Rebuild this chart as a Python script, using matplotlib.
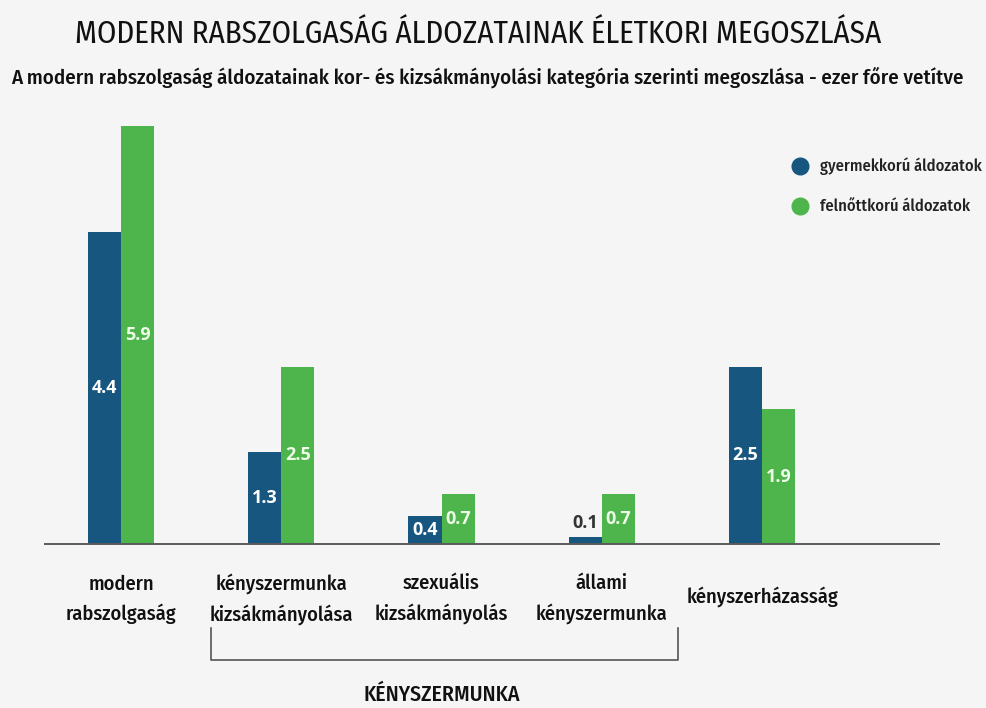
import matplotlib
matplotlib.use("Agg")
import matplotlib.pyplot as plt
from matplotlib import transforms
from matplotlib.lines import Line2D
from matplotlib import font_manager
import numpy as np

categories = ["modern\nrabszolgaság", "kényszermunka\nkizsákmányolása",
              "szexuális\nkizsákmányolás", "állami\nkényszermunka",
              "kényszerházasság"]
children = [4.4, 1.3, 0.4, 0.1, 2.5]
adults = [5.9, 2.5, 0.7, 0.7, 1.9]
series_names = ["gyermekkorú áldozatok", "felnőttkorú áldozatok"]

title = "MODERN RABSZOLGASÁG ÁLDOZATAINAK ÉLETKORI MEGOSZLÁSA"
subtitle = ("A modern rabszolgaság áldozatainak kor- és kizsákmányolási "
            "kategória szerinti megoszlása - ezer főre vetítve")
group_label = "KÉNYSZERMUNKA"

BLUE = "#16567f"
GREEN = "#4db54b"
BG = "#f5f5f5"

names = {f.name for f in font_manager.fontManager.ttflist}
main = next((n for n in ["Fira Sans Condensed", "PT Sans Narrow",
                         "IBM Plex Sans Condensed", "Carlito"]
             if n in names), "DejaVu Sans")
plt.rcParams['font.family'] = [main, 'DejaVu Sans']

W, H = 986, 708
fig = plt.figure(figsize=(W / 100, H / 100), dpi=100, facecolor=BG)
renderer = fig.canvas.get_renderer()


def fit(t, target_px):
    # scale font size so the text gets the width seen in the reference
    w = t.get_window_extent(renderer).width
    t.set_fontsize(t.get_fontsize() * target_px / w)
    return t.get_fontsize()


# axes spans the baseline from x=45px to x=939px, baseline at y=544px
ax = fig.add_axes([45 / W, (H - 544) / H, (939 - 45) / W, (544 - 110) / H])
ax.set_facecolor(BG)
x = np.arange(len(categories))
bw = 0.206
ax.bar(x - bw / 2, children, bw, color=BLUE)
ax.bar(x + bw / 2, adults, bw, color=GREEN)
ax.set_xlim(-0.474, 5.104)
ax.set_ylim(0, 434 / 70.85)
for s in ["top", "left", "right"]:
    ax.spines[s].set_visible(False)
ax.spines["bottom"].set_color("#5a5a5a")
ax.spines["bottom"].set_linewidth(1.4)
ax.set_xticks([])
ax.set_yticks([])

val_font = dict(fontsize=13, fontweight="bold", family=["Open Sans", "DejaVu Sans"],
                ha="center", va="center")
for i, (c, a) in enumerate(zip(children, adults)):
    if c < 0.3:
        ax.text(i - bw / 2, c + 0.2, f"{c}", color="#333333", **val_font)
    else:
        ax.text(i - bw / 2, c / 2, f"{c}", color="white", **val_font)
    ax.text(i + bw / 2, a / 2, f"{a}", color="#eefde8", **val_font)

# category labels below the axis
trans = transforms.blended_transform_factory(ax.transData, fig.transFigure)
probe = fig.text(0, 0, "kényszerházasság", fontsize=15, fontweight=500)
cat_size = fit(probe, 152)
probe.remove()
for i, lab in enumerate(categories):
    yy = 1 - 599 / H if "\n" in lab else 1 - 597 / H
    ax.text(i, yy, lab, transform=trans, ha="center", va="center",
            fontsize=cat_size, fontweight=500, color="#111111", linespacing=1.6)

# bracket for the forced labour group
bx = [211 / W, 211 / W, 678 / W, 678 / W]
by = [1 - 628 / H, 1 - 660 / H, 1 - 660 / H, 1 - 628 / H]
fig.add_artist(Line2D(bx, by, color="#555555", lw=1.2))
g = fig.text(442 / W, 1 - 695 / H, group_label, ha="center", va="center",
             fontsize=14, fontweight=500, color="#111111")
fit(g, 157)

# titles
t1 = fig.text(478 / W, 1 - 34 / H, title, ha="center", va="center",
              fontsize=21, color="#111111")
fit(t1, 810)
t2 = fig.text(487 / W, 1 - 77 / H, subtitle, ha="center", va="center",
              fontsize=14, fontweight=500, color="#111111")
fit(t2, 945)

# legend
for k, (name, col) in enumerate(zip(series_names, [BLUE, GREEN])):
    yy = 1 - (166 + 40 * k) / H
    fig.add_artist(Line2D([800 / W], [yy], marker="o", markersize=12,
                          color=col, linestyle="none"))
    lt = fig.text(820 / W, yy, name, ha="left", va="center", fontsize=12,
                  fontweight=500, color="#222222")
    if k == 0:
        leg_size = fit(lt, 162)
    else:
        lt.set_fontsize(leg_size)

fig.savefig("out.png", dpi=100, facecolor=BG)
